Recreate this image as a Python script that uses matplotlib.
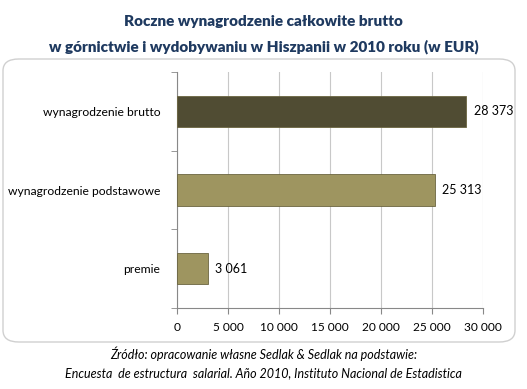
import matplotlib
matplotlib.use("Agg")
import matplotlib.pyplot as plt
from matplotlib.patches import FancyBboxPatch

categories = ["wynagrodzenie brutto", "wynagrodzenie podstawowe", "premie"]
values = [28373, 25313, 3061]
value_labels = ["28 373", "25 313", "3 061"]
bar_colors = ["#504c33", "#9e9560", "#9e9560"]
xticks = [0, 5000, 10000, 15000, 20000, 25000, 30000]
xtick_labels = ["0", "5 000", "10 000", "15 000", "20 000", "25 000", "30 000"]

plt.rcParams['font.family'] = ['Lato', 'DejaVu Sans']

W, H = 527, 389
fig = plt.figure(figsize=(W/100, H/100), dpi=100)
fig.patch.set_facecolor("white")

box = FancyBboxPatch((3/W, (H-342)/H), 512/W, 283/H,
                     boxstyle="round,pad=0,rounding_size=0.03",
                     transform=fig.transFigure, facecolor="white",
                     edgecolor="#d0d0d0", linewidth=1.0, zorder=-10)
fig.patches.append(box)

ax = fig.add_axes([177/W, (H-308)/H, (483-177)/W, (308-72)/H])
ax.set_zorder(5)
ax.set_facecolor("none")
ypos = list(range(len(categories)))
bars = ax.barh(ypos, values, height=0.40, color=bar_colors,
               edgecolor="#6b6540", linewidth=0.6, zorder=3)
ax.set_ylim(len(categories) - 0.5, -0.5)
ax.set_xlim(0, 30000)
ax.set_yticks(ypos)
ax.set_yticklabels(categories, fontsize=8.7)
ax.set_xticks(xticks)
ax.set_xticklabels(xtick_labels, fontsize=8.6)
ax.tick_params(axis='y', length=0, pad=12)
ax.tick_params(axis='x', length=4, color="#888888", pad=6)
ax.set_yticks([-0.5, 0.5, 1.5, 2.5], minor=True)
ax.tick_params(axis='y', which='minor', length=4, color="#888888", left=True)
ax.grid(axis='x', color="#c8c8c8", linewidth=0.8, zorder=0)
for s in ["top", "right"]:
    ax.spines[s].set_visible(False)
ax.spines["left"].set_color("#888888")
ax.spines["bottom"].set_color("#888888")

for y, v, lab in zip(ypos, values, value_labels):
    ax.text(v + 700, y, lab, va='center', ha='left', fontsize=9)

fig.text(0.5, (H-22)/H, "Roczne wynagrodzenie całkowite brutto",
         ha='center', va='center', fontsize=11, fontweight='heavy', color="#1f3a60")
fig.text(0.5, (H-47)/H, "w górnictwie i wydobywaniu w Hiszpanii w 2010 roku (w EUR)",
         ha='center', va='center', fontsize=11, fontweight='heavy', color="#1f3a60")
fig.text(0.5, (H-354)/H, "Źródło: opracowanie własne Sedlak & Sedlak na podstawie:",
         ha='center', va='center', fontsize=9, style='italic')
fig.text(0.5, (H-373)/H, "Encuesta  de estructura  salarial. Año 2010, Instituto Nacional de Estadistica",
         ha='center', va='center', fontsize=9, style='italic')

fig.savefig("out.png", dpi=100)
